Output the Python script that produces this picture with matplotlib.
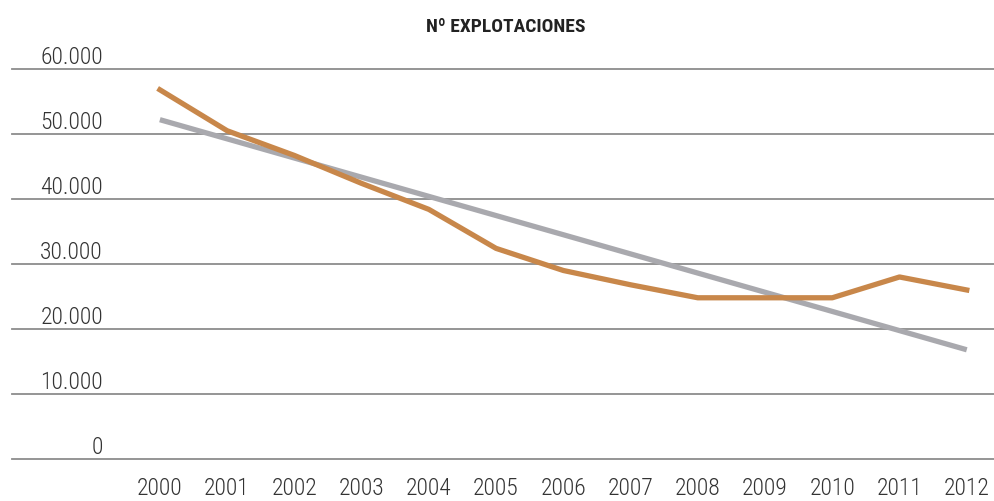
import matplotlib.pyplot as plt
from matplotlib import font_manager

years = [2000, 2001, 2002, 2003, 2004, 2005, 2006, 2007, 2008, 2009, 2010, 2011, 2012]
explotaciones = [56800, 50500, 46700, 42400, 38400, 32400, 29000, 26800, 24800, 24800, 24800, 28000, 26000]
# linear trend, start and end values
trend_years = [2000, 2012]
trend_values = [52200, 16800]

y_ticks = [0, 10000, 20000, 30000, 40000, 50000, 60000]
y_labels = ['0', '10.000', '20.000', '30.000', '40.000', '50.000', '60.000']

# narrow face if there is one, otherwise the default font a bit smaller
names = {f.name for f in font_manager.fontManager.ttflist}
font, tick_size, title_size = 'DejaVu Sans', 13, 12
for cand in ['Roboto Condensed', 'Archivo Narrow', 'Liberation Sans Narrow', 'Asap Condensed']:
    if cand in names:
        font, tick_size, title_size = cand, 17, 14
        break
plt.rcParams['font.family'] = [font, 'DejaVu Sans']

fig = plt.figure(figsize=(9.95, 5.02), dpi=100)
ax = fig.add_axes([0.012, 0.0837, 0.988, 0.7769])

ax.plot(trend_years, trend_values, color='#a9a9ae', lw=3.8, solid_capstyle='butt', zorder=3)
ax.plot(years, explotaciones, color='#c8874a', lw=3.8, solid_joinstyle='round', zorder=4)

ax.set_xlim(1997.8, 2012.42)
ax.set_ylim(0, 60000)

for v in y_ticks:
    ax.axhline(v, color='#8c8c8c', lw=1.3, zorder=1, clip_on=False)

for v, lab in zip(y_ticks, y_labels):
    ax.annotate(lab, xy=(0.0926, v), xycoords=('axes fraction', 'data'),
                xytext=(0, 1), textcoords='offset points',
                ha='right', va='bottom', fontsize=tick_size,
                fontweight='light', color='#333333')

ax.set_yticks([])
ax.set_xticks(years)
ax.set_xticklabels([str(y) for y in years], fontsize=tick_size,
                   fontweight='light', color='#333333')
ax.tick_params(axis='x', length=0, pad=12)
for s in ax.spines.values():
    s.set_visible(False)

fig.text(0.508, 0.946, 'Nº EXPLOTACIONES', ha='center', va='center',
         fontsize=title_size, fontweight='bold', color='#222222')

fig.savefig('out.png', dpi=100)
